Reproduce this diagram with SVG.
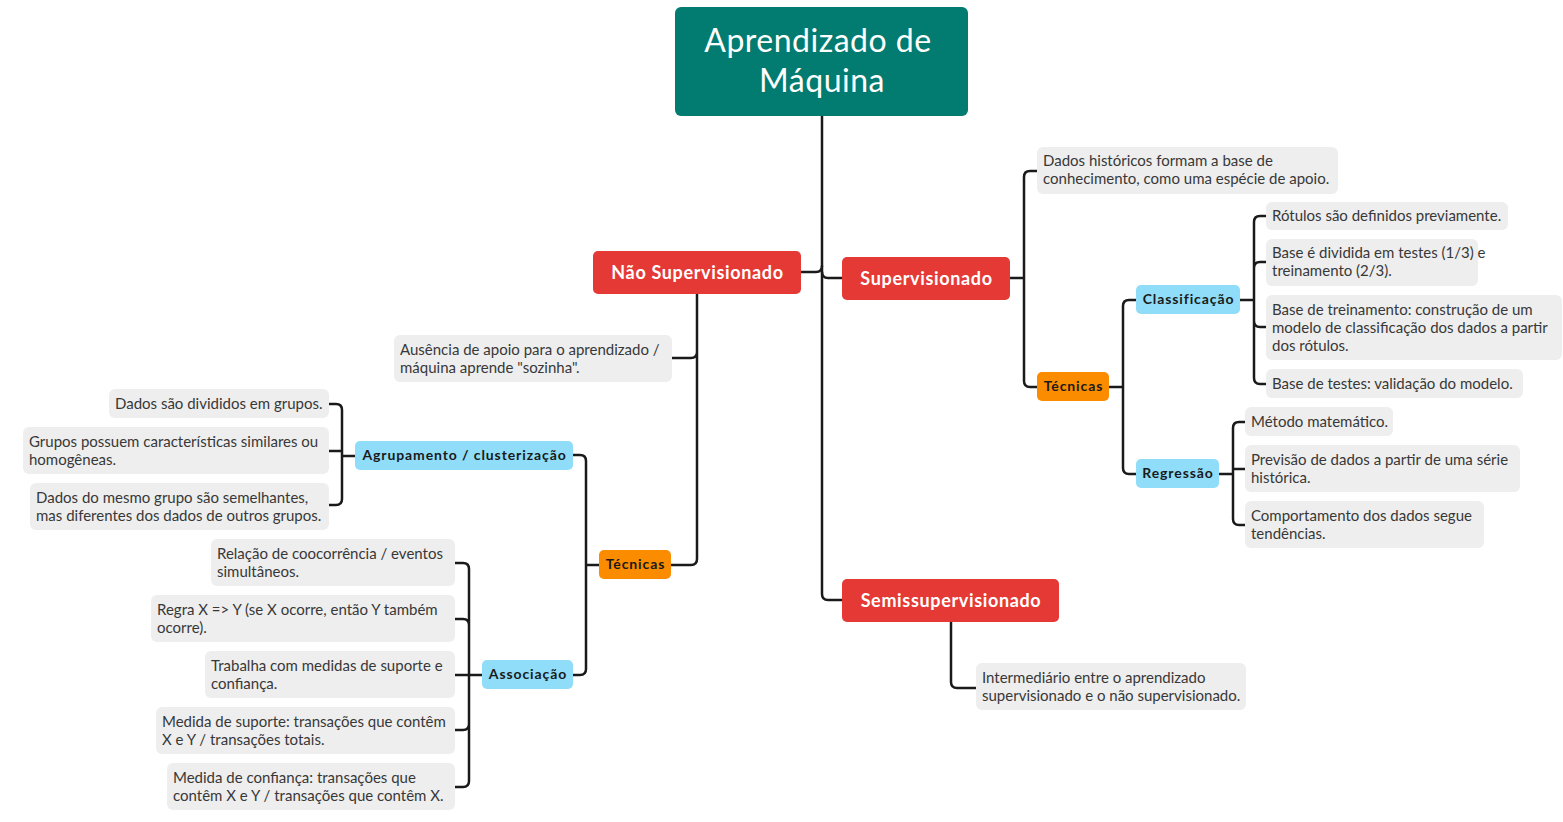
<svg xmlns="http://www.w3.org/2000/svg" width="1563" height="822" viewBox="0 0 1563 822">
<style>
.leaf rect{fill:#eeeeee}
.leaf text{font-family:Lato,"Open Sans","DejaVu Sans",sans-serif;font-size:15px;fill:#383838}
.main rect{fill:#e53935}
.main text{font-family:Lato,"Open Sans",sans-serif;font-size:18px;font-weight:bold;fill:#ffffff;text-anchor:middle;letter-spacing:0.65px}
.tec rect{fill:#fb8c00}
.sub rect{fill:#8fddf8}
.tec text,.sub text{font-family:Lato,"Open Sans",sans-serif;font-size:14px;font-weight:bold;fill:#1a1a1a;text-anchor:middle;letter-spacing:0.9px}
#connectors path{fill:none;stroke:#1a1a1a;stroke-width:2.5;stroke-linecap:round;stroke-linejoin:round}
</style>
<rect width="1563" height="822" fill="#ffffff"/>
<g id="connectors">
<path d="M822,116 V594 Q822,600 828,600 H842"/>
<path d="M822,266 Q822,272 816,272 H801"/>
<path d="M822,272 Q822,278 828,278 H842"/>
<path d="M1010,278 H1024 M1024,278 V177 Q1024,171 1030,171 H1037 M1024,278 V381 Q1024,387 1030,387 H1037"/>
<path d="M1109,387 H1123 M1123,387 V306 Q1123,300 1129,300 H1136 M1123,387 V468 Q1123,474 1129,474 H1136"/>
<path d="M1240,300 H1254 M1254,300 V222 Q1254,216 1260,216 H1266 M1254,300 V268 Q1254,262 1260,262 H1266 M1254,300 V321 Q1254,327 1260,327 H1266 M1254,300 V378 Q1254,384 1260,384 H1266"/>
<path d="M1219,474 H1233 M1233,474 V428 Q1233,422 1239,422 H1245 M1233,469 H1245 M1233,474 V519 Q1233,525 1239,525 H1245"/>
<path d="M951,622 V682 Q951,688 957,688 H976"/>
<path d="M697,294 V559 Q697,565 691,565 H671 M697,352 Q697,358 691,358 H672"/>
<path d="M599,565 H586 M586,565 V461 Q586,455 580,455 H573 M586,565 V669 Q586,675 580,675 H573"/>
<path d="M355,456 H342 M342,456 V410 Q342,404 336,404 H329 M342,451 H329 M342,456 V499 Q342,505 336,505 H329"/>
<path d="M482,675 H469 M469,675 V569 Q469,563 463,563 H455 M469,675 V625 Q469,619 463,619 H455 M469,675 H455 M469,675 V724 Q469,730 463,730 H455 M469,675 V781 Q469,787 463,787 H455"/>
</g>
<g id="root">
<rect x="675" y="7" width="293" height="109" rx="6" fill="#027b70"/>
<text font-family="Lato,'Open Sans',sans-serif" font-size="32" fill="#ffffff" text-anchor="middle" letter-spacing="0.5"><tspan x="818" y="52">Aprendizado de</tspan><tspan x="822" y="92">Máquina</tspan></text>
</g>
<g id="nao-supervisionado" class="main"><rect x="593" y="251" width="208" height="43" rx="5"/><text x="697.5" y="279">Não Supervisionado</text></g>
<g id="supervisionado" class="main"><rect x="842" y="257" width="168" height="43" rx="5"/><text x="926.5" y="285">Supervisionado</text></g>
<g id="semissupervisionado" class="main"><rect x="842" y="579" width="217" height="43" rx="5"/><text x="951" y="607">Semissupervisionado</text></g>
<g id="sup-dados" class="leaf"><rect x="1037" y="147" width="301" height="47" rx="6"/><text><tspan x="1043" y="166">Dados históricos formam a base de</tspan><tspan x="1043" y="184">conhecimento, como uma espécie de apoio.</tspan></text></g>
<g id="sup-tecnicas" class="tec"><rect x="1037" y="372" width="72" height="29" rx="5"/><text x="1073.5" y="391">Técnicas</text></g>
<g id="classificacao" class="sub"><rect x="1136" y="285" width="104" height="29" rx="5"/><text x="1188.5" y="304">Classificação</text></g>
<g id="regressao" class="sub"><rect x="1136" y="459" width="83" height="29" rx="5"/><text x="1178" y="478">Regressão</text></g>
<g id="cl-1" class="leaf"><rect x="1266" y="202" width="242" height="28" rx="6"/><text><tspan x="1272" y="221">Rótulos são definidos previamente.</tspan></text></g>
<g id="cl-2" class="leaf"><rect x="1266" y="239" width="212" height="47" rx="6"/><text><tspan x="1272" y="258">Base é dividida em testes (1/3) e</tspan><tspan x="1272" y="276">treinamento (2/3).</tspan></text></g>
<g id="cl-3" class="leaf"><rect x="1266" y="295" width="296" height="65" rx="6"/><text><tspan x="1272" y="315">Base de treinamento: construção de um</tspan><tspan x="1272" y="333">modelo de classificação dos dados a partir</tspan><tspan x="1272" y="351">dos rótulos.</tspan></text></g>
<g id="cl-4" class="leaf"><rect x="1266" y="369" width="257" height="29" rx="6"/><text><tspan x="1272" y="389">Base de testes: validação do modelo.</tspan></text></g>
<g id="rg-1" class="leaf"><rect x="1245" y="407" width="148" height="29" rx="6"/><text><tspan x="1251" y="427">Método matemático.</tspan></text></g>
<g id="rg-2" class="leaf"><rect x="1245" y="445" width="275" height="47" rx="6"/><text><tspan x="1251" y="465">Previsão de dados a partir de uma série</tspan><tspan x="1251" y="483">histórica.</tspan></text></g>
<g id="rg-3" class="leaf"><rect x="1245" y="501" width="239" height="47" rx="6"/><text><tspan x="1251" y="521">Comportamento dos dados segue</tspan><tspan x="1251" y="539">tendências.</tspan></text></g>
<g id="semi-leaf" class="leaf"><rect x="976" y="663" width="270" height="47" rx="6"/><text><tspan x="982" y="683">Intermediário entre o aprendizado</tspan><tspan x="982" y="701">supervisionado e o não supervisionado.</tspan></text></g>
<g id="ausencia" class="leaf"><rect x="394" y="335" width="278" height="47" rx="6"/><text><tspan x="400" y="355">Ausência de apoio para o aprendizado /</tspan><tspan x="400" y="373">máquina aprende "sozinha".</tspan></text></g>
<g id="ns-tecnicas" class="tec"><rect x="599" y="550" width="72" height="29" rx="5"/><text x="635.5" y="569">Técnicas</text></g>
<g id="agrupamento" class="sub"><rect x="355" y="441" width="218" height="29" rx="5"/><text x="464.5" y="460">Agrupamento / clusterização</text></g>
<g id="associacao" class="sub"><rect x="482" y="660" width="91" height="29" rx="5"/><text x="528" y="679">Associação</text></g>
<g id="ag-1" class="leaf"><rect x="109" y="389" width="220" height="29" rx="6"/><text><tspan x="115" y="409">Dados são divididos em grupos.</tspan></text></g>
<g id="ag-2" class="leaf"><rect x="23" y="427" width="306" height="47" rx="6"/><text><tspan x="29" y="447">Grupos possuem características similares ou</tspan><tspan x="29" y="465">homogêneas.</tspan></text></g>
<g id="ag-3" class="leaf"><rect x="30" y="483" width="299" height="47" rx="6"/><text><tspan x="36" y="503">Dados do mesmo grupo são semelhantes,</tspan><tspan x="36" y="521">mas diferentes dos dados de outros grupos.</tspan></text></g>
<g id="as-1" class="leaf"><rect x="211" y="539" width="244" height="47" rx="6"/><text><tspan x="217" y="559">Relação de coocorrência / eventos</tspan><tspan x="217" y="577">simultâneos.</tspan></text></g>
<g id="as-2" class="leaf"><rect x="151" y="595" width="304" height="47" rx="6"/><text><tspan x="157" y="615">Regra X =&gt; Y (se X ocorre, então Y também</tspan><tspan x="157" y="633">ocorre).</tspan></text></g>
<g id="as-3" class="leaf"><rect x="205" y="651" width="250" height="47" rx="6"/><text><tspan x="211" y="671">Trabalha com medidas de suporte e</tspan><tspan x="211" y="689">confiança.</tspan></text></g>
<g id="as-4" class="leaf"><rect x="156" y="707" width="299" height="47" rx="6"/><text><tspan x="162" y="727">Medida de suporte: transações que contêm</tspan><tspan x="162" y="745">X e Y / transações totais.</tspan></text></g>
<g id="as-5" class="leaf"><rect x="167" y="763" width="288" height="47" rx="6"/><text><tspan x="173" y="783">Medida de confiança: transações que</tspan><tspan x="173" y="801">contêm X e Y / transações que contêm X.</tspan></text></g>
</svg>
